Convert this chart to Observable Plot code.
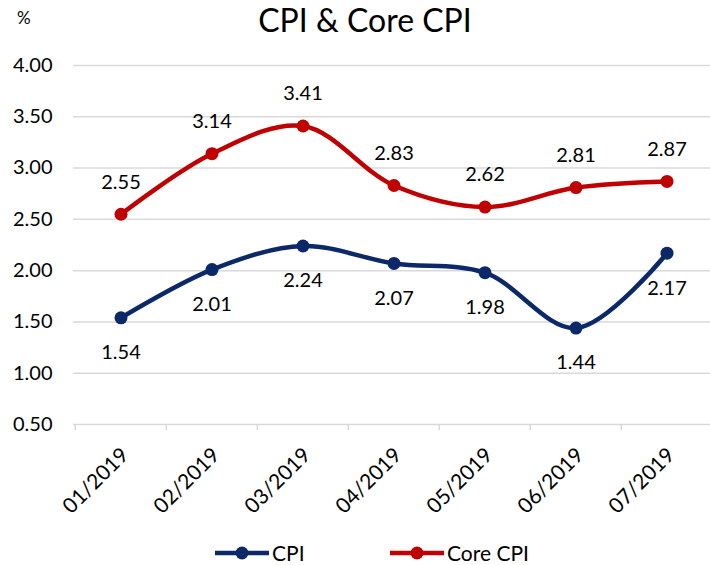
<!DOCTYPE html>
<html>
<head>
<meta charset="utf-8">
<script src="https://cdn.jsdelivr.net/npm/d3@7"></script>
<script src="https://cdn.jsdelivr.net/npm/@observablehq/plot@0.6"></script>
<style>
  html, body { margin: 0; padding: 0; background: #fff; }
  body { width: 710px; height: 565px; overflow: hidden; font-family: Lato, "Open Sans", sans-serif; color: #000; }
  #head { position: relative; height: 32px; }
  #title { position: absolute; left: 0; right: 0; text-align: center; top: 0; font-size: 32px; line-height: 39px; white-space: nowrap; }
  #title span { position: relative; left: 10px; }
  #pct { position: absolute; left: 17px; top: 8px; font-size: 17px; line-height: 20px; }
  #legend { position: relative; height: 35px; font-size: 21px; }
  .lg { position: absolute; top: 10px; display: flex; align-items: center; gap: 2px; }
</style>
</head>
<body>
<div id="head"><div id="pct">%</div><div id="title"><span>CPI &amp; Core CPI</span></div></div>
<div id="chart"></div>
<div id="legend"></div>
<script>
const months = ["01/2019", "02/2019", "03/2019", "04/2019", "05/2019", "06/2019", "07/2019"];
const seriesNames = ["CPI", "Core CPI"];
const cpi = [1.54, 2.01, 2.24, 2.07, 1.98, 1.44, 2.17];
const coreCpi = [2.55, 3.14, 3.41, 2.83, 2.62, 2.81, 2.87];
const yTicks = [0.5, 1.0, 1.5, 2.0, 2.5, 3.0, 3.5, 4.0];
const colors = ["#0b2868", "#c00000"];

const data = [
  ...months.map((m, i) => ({month: m, value: cpi[i], series: "CPI"})),
  ...months.map((m, i) => ({month: m, value: coreCpi[i], series: "Core CPI"}))
];
const cpiData = data.filter(d => d.series === "CPI");
const coreData = data.filter(d => d.series === "Core CPI");

const x0 = 73, x1 = 713;
const bw = (x1 - x0) / months.length;
const fmt = d3.format(".2f");

const chart = Plot.plot({
  width: 710,
  height: 498,
  marginTop: 33,
  marginBottom: 106,
  marginLeft: 73,
  marginRight: 0,
  style: {fontFamily: "Lato, 'Open Sans', sans-serif", fontSize: "20px", color: "#000", background: "#fff", overflow: "visible"},
  x: {type: "band", domain: months, range: [x0, x1], padding: 0, axis: null},
  y: {domain: [0.5, 4], axis: null},
  color: {domain: seriesNames, range: colors},
  marks: [
    Plot.ruleY(yTicks, {y: d => d, stroke: "#d9d9d9", strokeWidth: 1.5}),
    Plot.ruleX(months, {x: d => d, y1: 0.5, y2: 0.44, dx: -bw / 2, stroke: "#d9d9d9", strokeWidth: 1.5, clip: false}),
    Plot.text(yTicks, {y: d => d, text: d => fmt(d), frameAnchor: "left", textAnchor: "end", dx: -21, fontSize: 20}),
    Plot.text(months, {x: d => d, y: 0.5, text: d => d, rotate: -45, textAnchor: "end", dx: 4, dy: 27, fontSize: 21}),
    Plot.line(data, {x: "month", y: "value", z: "series", stroke: "series", strokeWidth: 4.5, curve: "catmull-rom"}),
    Plot.dot(data, {x: "month", y: "value", fill: "series", r: 6.5}),
    Plot.text(cpiData, {x: "month", y: "value", text: d => fmt(d.value), dy: 35, fontSize: 20}),
    Plot.text(coreData, {x: "month", y: "value", text: d => fmt(d.value), dy: -32, fontSize: 20})
  ]
});
document.getElementById("chart").appendChild(chart);

const legend = document.getElementById("legend");
const lefts = [214, 389];
seriesNames.forEach((name, i) => {
  const item = document.createElement("div");
  item.className = "lg";
  item.style.left = lefts[i] + "px";
  item.innerHTML = `<svg width="56" height="16"><line x1="1" y1="8" x2="55" y2="8" stroke="${colors[i]}" stroke-width="4.5"/><circle cx="28" cy="8" r="6.5" fill="${colors[i]}"/></svg><span>${name}</span>`;
  legend.appendChild(item);
});
</script>
</body>
</html>
